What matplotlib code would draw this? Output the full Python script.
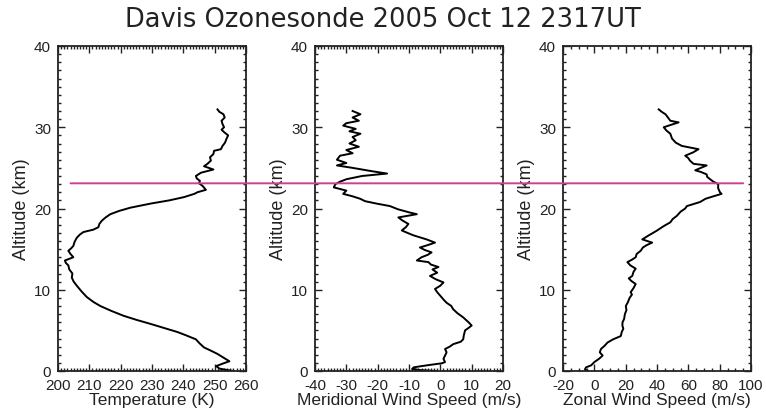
import matplotlib
matplotlib.use("Agg")
import matplotlib.pyplot as plt
from matplotlib.ticker import MultipleLocator
from matplotlib.patches import ConnectionPatch

# Temperature profile (altitude km, temperature K)
temp_alt = [0.0, 0.15, 0.3, 0.6, 0.9, 1.2, 1.6, 2.1, 2.5, 2.9, 3.4, 3.9, 4.4, 4.8,
            5.3, 5.8, 6.3, 6.8, 7.4, 8.0, 8.5, 9.1, 9.8, 10.5, 11.0, 11.5, 12.0,
            12.5, 13.0, 13.3, 13.6, 14.0, 14.4, 14.8, 15.1, 15.4, 15.9, 16.4, 16.8,
            17.1, 17.4, 17.7, 18.1, 18.5, 18.9, 19.3, 19.7, 20.1, 20.6, 21.0, 21.4,
            21.8, 22.0, 22.3, 22.8, 23.1, 23.4, 23.7, 24.0, 24.4, 24.8, 25.2, 25.5,
            25.9, 26.3, 26.7, 27.1, 27.3, 27.7, 28.1, 28.6, 29.0, 29.4, 29.7, 30.0,
            30.4, 30.8, 31.2, 31.6, 31.9, 32.2]
temp_k = [256.0, 253.5, 251.5, 250.5, 252.5, 254.7, 253.0, 250.9, 248.8, 246.6,
          245.2, 244.0, 240.8, 238.1, 233.8, 229.5, 225.0, 220.9, 217.0, 213.5,
          211.3, 209.2, 207.5, 206.0, 205.0, 204.4, 204.6, 203.6, 203.3, 202.5,
          202.2, 204.9, 204.0, 203.3, 204.2, 204.9, 205.3, 206.0, 207.0, 208.1,
          211.3, 212.9, 213.2, 214.0, 215.2, 216.7, 219.5, 223.1, 229.5, 235.5,
          240.2, 243.5, 244.5, 247.2, 246.1, 245.0, 245.3, 244.3, 244.0, 245.6,
          249.6, 246.6, 247.7, 248.8, 248.5, 249.6, 249.8, 252.0, 252.5, 253.3,
          253.8, 254.3, 253.0, 252.2, 253.0, 252.5, 252.2, 253.2, 252.8, 251.5,
          250.9]

# Meridional wind profile (altitude km, m/s)
merid_alt = [0.0, 0.1, 0.25, 0.45, 0.6, 0.75, 0.95, 1.1, 1.5, 1.9, 2.3, 2.7, 3.0,
             3.3, 3.6, 3.9, 4.4, 5.0, 5.3, 5.6, 6.0, 6.6, 7.1, 7.6, 8.0, 8.4, 8.8,
             9.3, 9.7, 10.1, 10.5, 10.9, 11.3, 11.7, 12.1, 12.5, 12.8, 13.1, 13.4,
             13.6, 14.0, 14.3, 14.6, 14.9, 15.2, 15.5, 15.8, 16.2, 16.7, 17.0, 17.3,
             17.7, 18.1, 18.5, 18.9, 19.3, 19.5, 19.9, 20.3, 20.6, 20.9, 21.2, 21.5,
             21.8, 22.2, 22.6, 23.0, 23.3, 23.6, 24.0, 24.3, 24.6, 25.0, 25.3, 25.6,
             26.0, 26.5, 26.8, 27.2, 27.6, 28.0, 28.4, 28.8, 29.2, 29.5, 29.8, 30.2,
             30.5, 30.8, 31.2, 31.6, 32.0]
merid_ms = [-1.2, -6.0, -9.0, -8.5, -6.0, -3.3, 0.5, 1.5, 1.0, 1.5, 2.0, 1.5, 3.0,
            4.1, 6.5, 7.3, 7.5, 7.9, 9.0, 10.0, 9.0, 7.3, 5.5, 4.1, 3.5, 2.0, 1.0,
            -0.1, -1.0, -1.7, 0.0, 1.0, -1.5, -3.3, -1.0, -2.5, -0.6, -3.0, -3.8,
            -7.5, -6.0, -4.0, -2.8, -5.0, -6.5, -4.0, -1.7, -4.4, -8.6, -10.5, -12.3,
            -11.0, -10.2, -12.0, -13.4, -7.5, -9.7, -13.5, -16.1, -20.3, -24.0, -25.6,
            -28.0, -31.0, -30.0, -34.0, -33.5, -32.0, -30.0, -25.0, -17.0, -22.0,
            -28.0, -33.0, -30.0, -33.0, -32.0, -28.0, -30.0, -26.0, -29.0, -27.0,
            -28.0, -25.5, -29.0, -27.0, -31.0, -30.0, -26.0, -28.0, -25.5, -28.0]

# Zonal wind profile (altitude km, m/s)
zonal_alt = [0.0, 0.2, 0.45, 0.7, 1.1, 1.5, 1.9, 2.3, 2.7, 3.1, 3.5, 3.9, 4.3, 4.8,
             5.2, 5.6, 6.0, 6.4, 7.0, 7.5, 8.0, 8.5, 9.0, 9.4, 9.7, 10.2, 10.7, 11.1,
             11.4, 11.7, 12.2, 12.6, 13.0, 13.4, 13.7, 14.0, 14.4, 14.8, 15.2, 15.5,
             15.8, 16.2, 16.7, 17.0, 17.3, 17.8, 18.3, 18.7, 19.1, 19.6, 20.0, 20.3,
             20.8, 21.2, 21.5, 21.8, 22.0, 22.5, 23.0, 23.3, 23.6, 23.9, 24.2, 24.5,
             24.7, 25.0, 25.3, 25.5, 25.9, 26.2, 26.5, 26.9, 27.3, 27.5, 27.7, 28.1,
             28.6, 29.2, 29.6, 30.0, 30.3, 30.6, 30.8, 31.2, 31.6, 31.9, 32.2]
zonal_ms = [-4.2, -6.0, -5.3, -2.0, 0.0, 3.0, 5.3, 3.5, 4.2, 6.5, 8.4, 12.0, 16.9,
            17.5, 18.5, 17.9, 18.0, 19.0, 19.5, 20.5, 20.1, 21.5, 22.5, 24.0, 23.2,
            25.0, 26.4, 23.5, 22.0, 24.2, 25.0, 26.4, 23.0, 21.1, 24.0, 26.4, 27.0,
            29.6, 31.0, 33.5, 36.9, 30.6, 34.8, 37.5, 40.1, 44.0, 48.5, 50.0, 52.7,
            55.0, 58.0, 59.1, 67.5, 71.0, 76.0, 81.2, 80.2, 79.0, 79.1, 76.0, 73.9,
            72.0, 71.7, 68.0, 64.4, 68.0, 71.7, 63.3, 61.0, 60.0, 58.0, 63.0, 66.5,
            61.2, 55.9, 52.0, 49.6, 48.5, 46.0, 44.3, 49.0, 53.8, 48.5, 47.0, 45.4,
            43.0, 41.1]

marker_alt = 23.1  # highlighted level (km)

title = "Davis Ozonesonde 2005 Oct 12 2317UT"
ylabel = "Altitude (km)"
xlabels = ["Temperature (K)", "Meridional Wind Speed (m/s)", "Zonal Wind Speed (m/s)"]
xlims = [(200, 260), (-40, 20), (-20, 100)]
xmajor = [10, 10, 20]
xminor = [1, 1, 5]

plt.rcParams['font.family'] = ['Liberation Sans', 'DejaVu Sans']
plt.rcParams['axes.unicode_minus'] = False

W, H = 766, 414
fig = plt.figure(figsize=(W / 100, H / 100), dpi=100)
fig.patch.set_facecolor('white')

panel_left = [58, 315, 563]
panel_w = 188
bottom_px, top_px = 372, 47

axes = []
profiles = [(temp_k, temp_alt), (merid_ms, merid_alt), (zonal_ms, zonal_alt)]
for i, (xs, ys) in enumerate(profiles):
    ax = fig.add_axes([panel_left[i] / W, 1 - bottom_px / H,
                       panel_w / W, (bottom_px - top_px) / H])
    ax.plot(xs, ys, color='black', lw=1.4)
    ax.set_xlim(*xlims[i])
    ax.set_ylim(0, 40)
    ax.xaxis.set_major_locator(MultipleLocator(xmajor[i]))
    ax.xaxis.set_minor_locator(MultipleLocator(xminor[i]))
    ax.yaxis.set_major_locator(MultipleLocator(10))
    ax.yaxis.set_minor_locator(MultipleLocator(1))
    ax.tick_params(which='both', direction='in', top=True, right=True,
                   width=1.0, labelsize=11, colors='#222222')
    ax.tick_params(axis='x', which='major', length=5, pad=5)
    ax.tick_params(axis='y', which='major', length=5, pad=5)
    ax.tick_params(which='minor', length=2.5)
    for s in ax.spines.values():
        s.set_linewidth(1.3)
        s.set_color('#222222')
    ax.set_xlabel(xlabels[i], fontsize=12.5, labelpad=0, color='#222222')
    ax.set_ylabel(ylabel, fontsize=13, labelpad=3, color='#222222')
    axes.append(ax)

# Horizontal marker line across all panels
line = ConnectionPatch(xyA=(204, marker_alt), coordsA=axes[0].transData,
                       xyB=(95, marker_alt), coordsB=axes[2].transData,
                       color='#cc3f98', lw=1.4, zorder=10)
fig.add_artist(line)

fig.text(0.5, 1 - 20 / H, title, ha='center', va='center', fontsize=18.5,
         family='DejaVu Sans', color='#222222')

fig.savefig('out.png', dpi=100)
